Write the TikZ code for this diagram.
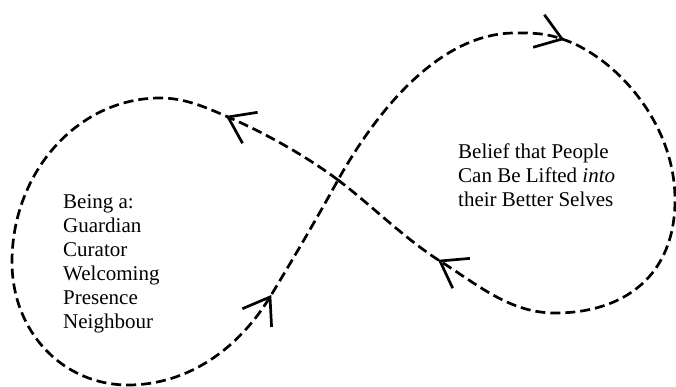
\documentclass[tikz,border=0pt]{standalone}
\usepackage{fontspec}
\setmainfont{Liberation Serif}
\usetikzlibrary{calc}

% 开口箭头: 尖端, 反向角度
\newcommand{\chevron}[2]{%
	\draw[barb] (#1) ++(#2+35:30) -- (#1) -- ++(#2-35:30);}

\begin{document}
\begin{tikzpicture}[x=1pt, y=-1pt,
	eightpath/.style={line width=2.7pt, dash pattern=on 10pt off 5pt},
	barb/.style={line width=2.7pt},
	textblock/.style={align=left, inner sep=0pt, anchor=north west, font=\fontsize{21}{24}\selectfont}]
	\useasboundingbox (0,0) rectangle (676,387);
	
	% 关键点
	\coordinate (cross) at (338,180);
	\coordinate (tipleft) at (228,117);
	\coordinate (topleft) at (160,98);
	\coordinate (leftmost) at (12,262);
	\coordinate (bottomleft) at (128,385);
	\coordinate (tiplower) at (270,297);
	\coordinate (topright) at (515,33);
	\coordinate (tiptop) at (562,39);
	\coordinate (rightmost) at (675,200);
	\coordinate (bottomright) at (555,313);
	\coordinate (tipright) at (440,261);
	
	% 绘制8字形虚线
	\draw[eightpath] (cross)
		.. controls +(-32,-24) and +(37,16) .. (tipleft)
		.. controls +(-23,-10) and +(25,0) .. (topleft)
		.. controls +(-82,0) and +(0,-90) .. (leftmost)
		.. controls +(0,70) and +(-65,0) .. (bottomleft)
		.. controls +(55,0) and +(-35,57) .. (tiplower)
		.. controls +(20,-33) and +(-22,40) .. (cross)
		.. controls +(45,-80) and +(-70,0) .. (topright)
		.. controls +(18,0) and +(-17,-6) .. (tiptop)
		.. controls +(50,16) and +(0,-80) .. (rightmost)
		.. controls +(0,75) and +(70,0) .. (bottomright)
		.. controls +(-45,0) and +(38,24) .. (tipright)
		.. controls +(-35,-22) and +(32,24) .. (cross);
	
	% 绘制箭头
	\chevron{tipleft}{26}
	\chevron{tiplower}{122}
	\chevron{tiptop}{199}
	\chevron{tipright}{30}
	
	% 绘制文字
	\node[textblock] (roles) at (63,194) {Being a:\\Guardian\\Curator\\Welcoming\\Presence\\Neighbour};
	\node[textblock] (belief) at (458,144) {Belief that People\\Can Be Lifted \textit{into}\\their Better Selves};
\end{tikzpicture}
\end{document}
